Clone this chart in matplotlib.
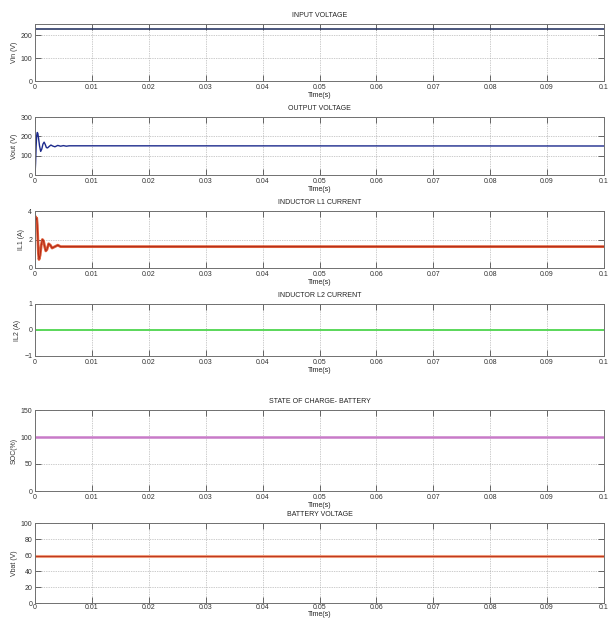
import numpy as np
import matplotlib
matplotlib.use("Agg")
import matplotlib.pyplot as plt

plt.rcParams['font.family'] = ['Liberation Sans', 'DejaVu Sans']
plt.rcParams['font.size'] = 5

W, H = 611, 620

# time axis
t_end = 0.1
xticks = [0, 0.01, 0.02, 0.03, 0.04, 0.05, 0.06, 0.07, 0.08, 0.09, 0.1]
xticklabels = ["0", "0.01", "0.02", "0.03", "0.04", "0.05", "0.06", "0.07", "0.08", "0.09", "0.1"]

# input voltage (constant)
t_vin = [0, 0.1]
vin = [230, 230]

# output voltage transient
t_vout = [0, 0.0001, 0.0002, 0.0003, 0.0004, 0.0005, 0.0006, 0.0008, 0.001, 0.0012,
          0.0014, 0.0016, 0.0018, 0.002, 0.0022, 0.0025, 0.0028, 0.0031, 0.0035,
          0.004, 0.0045, 0.005, 0.0055, 0.006, 0.1]
vout = [0, 60, 150, 205, 220, 215, 195, 150, 122, 135,
        160, 170, 158, 142, 140, 148, 155, 150, 146,
        153, 149, 152, 149, 151, 150]

# inductor L1 current transient
t_il1 = [0, 0.0001, 0.0002, 0.0003, 0.0004, 0.0005, 0.0006, 0.0007, 0.0009, 0.0011,
         0.0013, 0.0015, 0.0017, 0.0019, 0.0021, 0.0024, 0.0027, 0.003, 0.0035,
         0.004, 0.0045, 0.005, 0.1]
il1 = [3.5, 3.6, 3.4, 3.5, 3.0, 2.0, 1.0, 0.6, 0.9, 1.6,
       2.0, 1.9, 1.5, 1.2, 1.3, 1.7, 1.6, 1.4, 1.5,
       1.6, 1.5, 1.5, 1.5]

# inductor L2 current
t_il2 = [0, 0.1]
il2 = [0, 0]

# battery state of charge
t_soc = [0, 0.1]
soc = [100, 100]

# battery voltage
t_vbat = [0, 0.1]
vbat = [59, 59]

panels = [
    # title, ylabel, ylim, yticks, pixel top, pixel bottom
    ("INPUT VOLTAGE", "Vin (V)", (0, 250), [0, 100, 200], 24, 81),
    ("OUTPUT VOLTAGE", "Vout (V)", (0, 300), [0, 100, 200, 300], 117, 175),
    ("INDUCTOR L1 CURRENT", "IL1 (A)", (0, 4), [0, 2, 4], 211, 268),
    ("INDUCTOR L2 CURRENT", "IL2 (A)", (-1, 1), [-1, 0, 1], 304, 356),
    ("STATE OF CHARGE- BATTERY", "SOC(%)", (0, 150), [0, 50, 100, 150], 410, 491),
    ("BATTERY VOLTAGE", "Vbat (V)", (0, 100), [0, 20, 40, 60, 80, 100], 523, 603),
]
left_px, right_px = 35, 604

fig = plt.figure(figsize=(W / 100, H / 100), dpi=100)
axes = []
for i, (title, ylab, ylim, yt, top, bot) in enumerate(panels):
    ax = fig.add_axes([left_px / W, 1 - bot / H, (right_px - left_px) / W, (bot - top) / H])
    ax.set_xlim(0, t_end)
    ax.set_ylim(*ylim)
    ax.set_xticks(xticks)
    ax.set_xticklabels(xticklabels)
    ax.set_yticks(yt)
    ax.grid(True, linestyle=(0, (1, 1.5)), color="#9a9a9a", linewidth=0.5)
    ax.tick_params(direction="in", length=4, width=0.6, top=True, right=True,
                   colors="#505050", labelcolor="#333333", pad=2)
    for s in ax.spines.values():
        s.set_color("#707070")
        s.set_linewidth(0.7)
    ax.set_title(title, fontsize=5, pad=5, color="#222222")
    # last panel's label sits right at the bottom edge
    last = i == len(panels) - 1
    if last:
        ax.tick_params(axis="x", pad=1)
    ax.set_xlabel("Time(s)", fontsize=5, labelpad=0 if last else 1, color="#222222")
    ax.set_ylabel(ylab, fontsize=5, labelpad=2, color="#333333")
    axes.append(ax)

axes[0].plot(t_vin, vin, color="#2c3a66", linewidth=1.2)
axes[1].plot(t_vout, vout, color="#1c2a8c", linewidth=1.0)
axes[2].plot(t_il1, il1, color="#e0603a", linewidth=2.0)
axes[2].plot(t_il1, il1, color="#b02a18", linewidth=0.7)
axes[3].plot(t_il2, il2, color="#5ad85a", linewidth=1.4)
axes[4].plot(t_soc, soc, color="#c87ac8", linewidth=1.8)
axes[5].plot(t_vbat, vbat, color="#f0a080", linewidth=2.2)
axes[5].plot(t_vbat, vbat, color="#c03a20", linewidth=0.8)

fig.savefig("out.png", dpi=100, facecolor="white")
